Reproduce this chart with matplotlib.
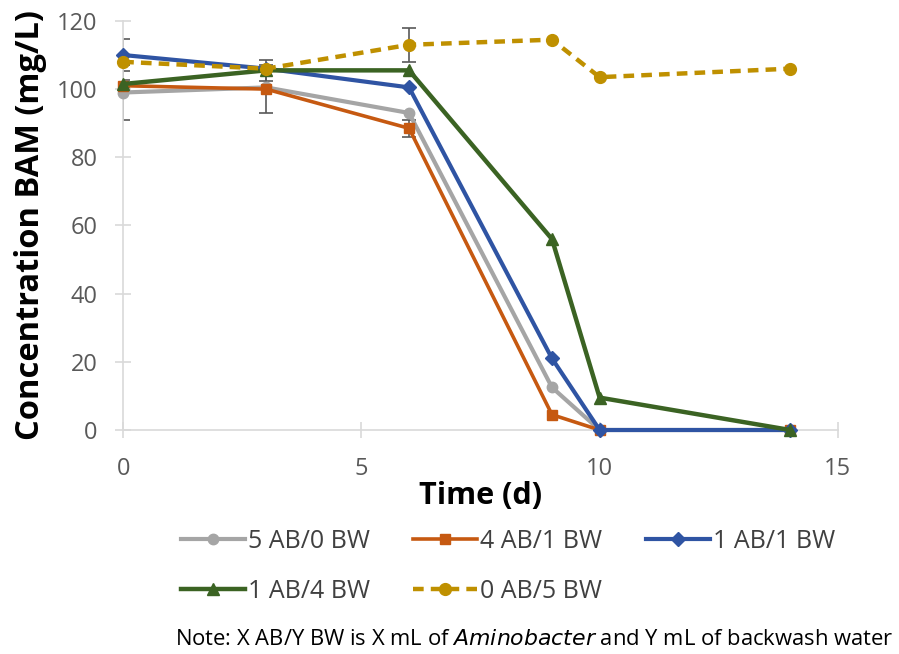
import matplotlib
matplotlib.use("Agg")
import matplotlib.pyplot as plt
from matplotlib.lines import Line2D

time = [0, 3, 6, 9, 10, 14]
labels = ["5 AB/0 BW", "4 AB/1 BW", "1 AB/1 BW", "1 AB/4 BW", "0 AB/5 BW"]
ab5_bw0 = [99, 100.5, 93, 12.5, 0, 0]
ab4_bw1 = [101, 100, 88.5, 4.5, 0, 0]
ab1_bw1 = [110, 106, 100.5, 21, 0, 0]
ab1_bw4 = [101.5, 105.5, 105.5, 56, 9.5, 0]
ab0_bw5 = [108, 106, 113, 114.5, 103.5, 106]
err5_0 = [8, 0, 0, 0, 0, 0]
err4_1 = [0, 7, 2.5, 0, 0, 0]
err1_1 = [4.6, 0, 0, 0, 0, 0]
err1_4 = [1.2, 3, 0, 0, 0, 0]
err0_5 = [0, 0, 5, 0, 0, 0]
xticks = [0, 5, 10, 15]
yticks = [0, 20, 40, 60, 80, 100, 120]

series = [ab5_bw0, ab4_bw1, ab1_bw1, ab1_bw4, ab0_bw5]
errs = [err5_0, err4_1, err1_1, err1_4, err0_5]
colors = ["#A5A5A5", "#C65911", "#2F54A3", "#3B6323", "#BF9000"]
markers = ["o", "s", "D", "^", "o"]
msizes = [7.5, 7.5, 7.5, 8.5, 8.5]
lwidths = [3, 2.6, 3, 3.2, 3.2]
styles = ["-", "-", "-", "-", (0, (2.4, 1.6))]

plt.rcParams['font.family'] = ['Open Sans', 'DejaVu Sans']
fig = plt.figure(figsize=(8.99, 6.54), dpi=100)
ax = fig.add_axes([0.137, 0.3425, 0.795, 0.6255])

for ys, e, c in zip(series, errs, colors):
    xs = [t for t, v in zip(time, e) if v > 0]
    yv = [y for y, v in zip(ys, e) if v > 0]
    ev = [v for v in e if v > 0]
    if xs:
        ax.errorbar(xs, yv, yerr=ev, fmt='none', ecolor='#595959', elinewidth=1.2,
                    capsize=5, capthick=1.2, zorder=1)

for ys, c, m, ms, lw, ls in zip(series, colors, markers, msizes, lwidths, styles):
    ax.plot(time, ys, color=c, marker=m, markersize=ms, linestyle=ls, linewidth=lw,
            markeredgecolor=c, zorder=3, clip_on=False)

ax.set_xlim(0, 15)
ax.set_ylim(0, 120)
ax.set_xticks(xticks)
ax.set_yticks(yticks)
for s in ['top', 'right']:
    ax.spines[s].set_visible(False)
for s in ['left', 'bottom']:
    ax.spines[s].set_color('#D9D9D9')
    ax.spines[s].set_linewidth(1.2)
ax.tick_params(axis='both', direction='inout', length=11, width=1.2, color='#D9D9D9',
               labelcolor='#595959', labelsize=17)
ax.tick_params(axis='x', pad=14)
ax.tick_params(axis='y', pad=13)

ax.set_xlabel("Time (d)", fontsize=22, fontweight='bold', labelpad=0)
ax.set_ylabel("Concentration BAM (mg/L)", fontsize=23.5, fontweight='bold', labelpad=7)

handles = [Line2D([0], [0], color=c, marker=m, markersize=ms, linestyle=ls, linewidth=lw,
                  markeredgecolor=c)
           for c, m, ms, lw, ls in zip(colors, markers, msizes, lwidths, styles)]
order = [0, 3, 1, 4, 2]
leg = fig.legend([handles[i] for i in order], [labels[i] for i in order],
                 loc='upper left', bbox_to_anchor=(0.19, 0.207),
                 ncol=3, frameon=False, fontsize=18, handlelength=2.55,
                 columnspacing=1.75, handletextpad=0.12, labelspacing=1.0,
                 labelcolor='#404040', borderaxespad=0)

fig.text(0.5946, 0.006, "Note: X AB/Y BW is X mL of $\\it{Aminobacter}$ and Y mL of backwash water",
         ha='center', va='bottom', fontsize=15.8, color='#000000')

fig.savefig("out.png", dpi=100)
